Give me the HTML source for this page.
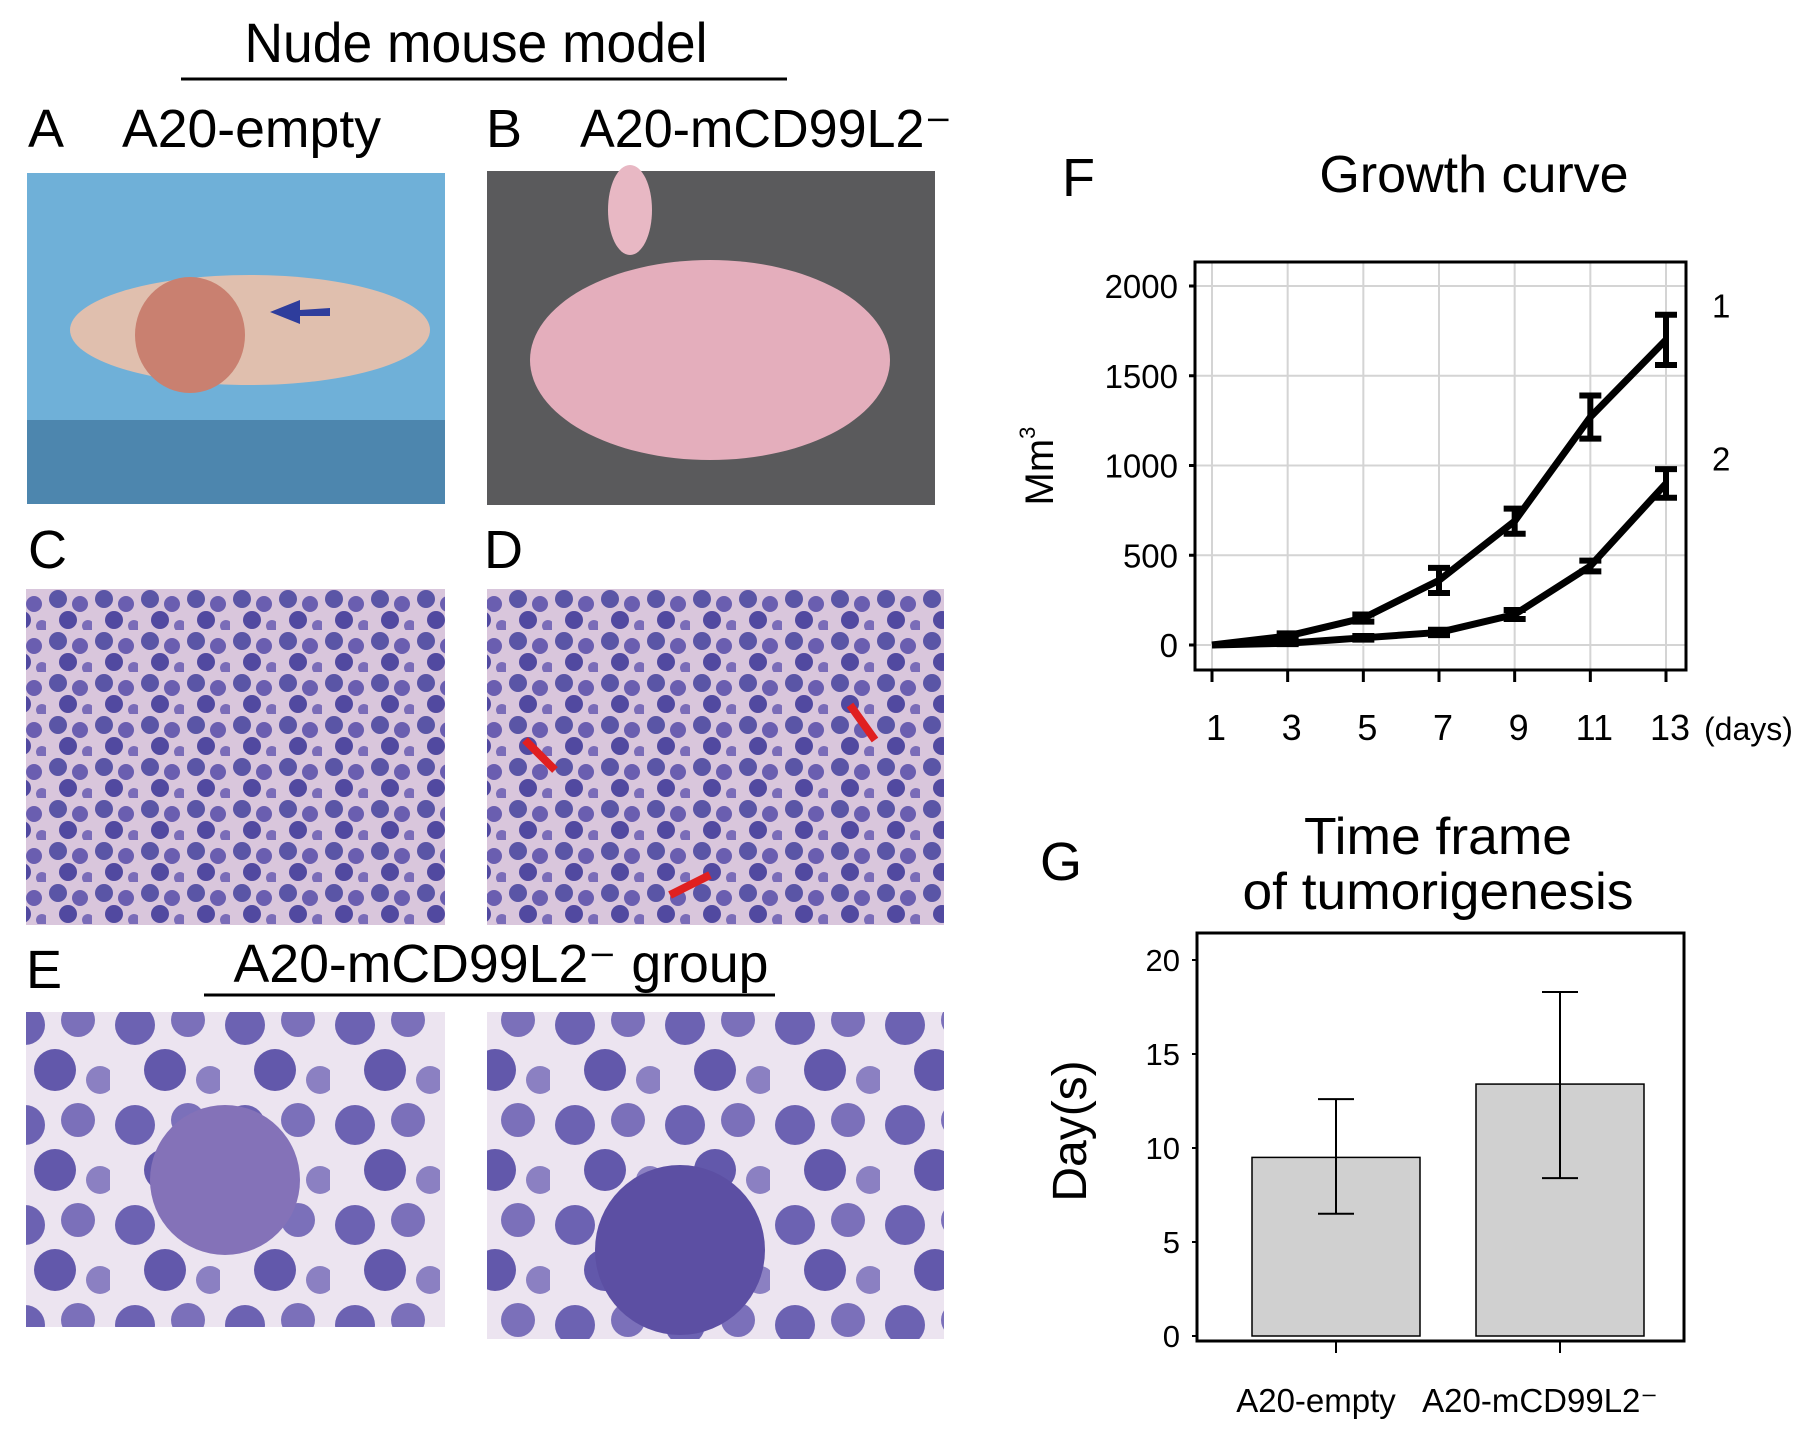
<!DOCTYPE html>
<html><head><meta charset="utf-8"><style>
html,body{margin:0;padding:0;background:#fff;overflow:hidden;}
svg{display:block;font-family:"Liberation Sans",Arial,sans-serif;}
</style></head><body>
<svg id="fig" width="1819" height="1439" viewBox="0 0 1819 1439">
<defs>
<pattern id="cellsS" width="46" height="42" patternUnits="userSpaceOnUse">
<rect width="46" height="42" fill="#d9c6dc"/>
<circle cx="12" cy="11" r="9" fill="#5a55a6"/><circle cx="34" cy="16" r="8" fill="#6a5eb0"/>
<circle cx="22" cy="32" r="9" fill="#5149a0"/><circle cx="42" cy="38" r="6" fill="#7a6cb8"/>
</pattern>
<pattern id="cellsL" width="110" height="100" patternUnits="userSpaceOnUse">
<rect width="110" height="100" fill="#ece4f0"/>
<circle cx="25" cy="25" r="20" fill="#6c62b2"/><circle cx="78" cy="20" r="17" fill="#7b70ba"/>
<circle cx="55" cy="70" r="21" fill="#6258ab"/><circle cx="100" cy="80" r="14" fill="#8b80c2"/>
</pattern>
</defs>

<text x="476" y="62" font-size="56" text-anchor="middle" textLength="463" lengthAdjust="spacingAndGlyphs">Nude mouse model</text>
<line x1="181" y1="79" x2="787" y2="79" stroke="#000" stroke-width="3"/>
<text x="28" y="147" font-size="54">A</text>
<text x="122" y="147" font-size="54" textLength="259" lengthAdjust="spacingAndGlyphs">A20-empty</text>
<text x="486" y="147" font-size="54">B</text>
<text x="580" y="147" font-size="54" textLength="372" lengthAdjust="spacingAndGlyphs">A20-mCD99L2⁻</text>

<g>
<rect x="27" y="173" width="418" height="331" fill="#6fb0d8"/>
<rect x="27" y="420" width="418" height="84" fill="#4d86ae"/>
<ellipse cx="250" cy="330" rx="180" ry="55" fill="#e0bfae"/>
<ellipse cx="190" cy="335" rx="55" ry="58" fill="#c98070"/>
<polygon points="300,310 300,300 270,312 300,324 300,316 330,316 330,308" fill="#2e3d9c"/>
</g>
<g>
<rect x="487" y="171" width="448" height="334" fill="#5a5a5c"/>
<ellipse cx="710" cy="360" rx="180" ry="100" fill="#e4aebc"/>
<ellipse cx="630" cy="210" rx="22" ry="45" fill="#e8b8c4"/>
</g>

<text x="28" y="568" font-size="54">C</text>
<text x="484" y="568" font-size="54">D</text>
<rect x="26" y="589" width="419" height="336" fill="url(#cellsS)"/>
<g>
<rect x="487" y="589" width="457" height="336" fill="url(#cellsS)"/>
<line x1="525" y1="740" x2="555" y2="770" stroke="#e02020" stroke-width="8"/>
<line x1="850" y1="705" x2="875" y2="740" stroke="#e02020" stroke-width="8"/>
<line x1="710" y1="875" x2="670" y2="895" stroke="#e02020" stroke-width="8"/>
</g>

<text x="26" y="988" font-size="54">E</text>
<text x="501" y="982" font-size="54" text-anchor="middle" textLength="535" lengthAdjust="spacingAndGlyphs">A20-mCD99L2⁻ group</text>
<line x1="204" y1="995" x2="775" y2="995" stroke="#000" stroke-width="3"/>
<g>
<rect x="26" y="1012" width="419" height="315" fill="url(#cellsL)"/>
<circle cx="225" cy="1180" r="75" fill="#8472b8"/>
</g>
<g>
<rect x="487" y="1012" width="457" height="327" fill="url(#cellsL)"/>
<circle cx="680" cy="1250" r="85" fill="#5c4fa3"/>
</g>

<!-- Chart F -->
<text x="1062" y="196" font-size="54">F</text>
<text x="1474" y="192" font-size="52" text-anchor="middle">Growth curve</text>
<g id="chartF"></g>
<text transform="translate(1053,466) rotate(-90)" font-size="40" text-anchor="middle">Mm<tspan font-size="22" dy="-18">3</tspan></text>

<!-- Chart G -->
<text x="1040" y="880" font-size="54">G</text>
<text x="1438" y="854" font-size="52" text-anchor="middle" textLength="268" lengthAdjust="spacingAndGlyphs">Time frame</text>
<text x="1438" y="909" font-size="52" text-anchor="middle" textLength="391" lengthAdjust="spacingAndGlyphs">of tumorigenesis</text>
<text transform="translate(1086,1131) rotate(-90)" font-size="48" text-anchor="middle">Day(s)</text>
<g id="chartG"></g>
</svg>
<script>
const fDays=[1,3,5,7,9,11,13];
const fSeries1=[0,50,150,360,690,1270,1700];
const fErr1=[0,15,20,70,70,120,140];
const fSeries2=[0,10,40,70,170,440,900];
const fErr2=[0,5,10,15,25,30,80];
const fYTicks=[0,500,1000,1500,2000];
const fSeriesLabels=["1","2"];

const gCategories=["A20-empty","A20-mCD99L2⁻"];
const gValues=[9.5,13.4];
const gLow=[6.5,8.4];
const gHigh=[12.6,18.3];
const gYTicks=[0,5,10,15,20];

const NS="http://www.w3.org/2000/svg";
function mk(parent,tag,attrs,txt){const e=document.createElementNS(NS,tag);for(const k in attrs)e.setAttribute(k,attrs[k]);if(txt!==undefined)e.textContent=txt;parent.appendChild(e);return e;}

// Chart F
(function(){
const g=document.getElementById('chartF');
const L=1195,R=1686,T=262,B=670;
const x=d=>1212+(d-1)*(1666-1212)/12;
const y=v=>645-v*(645-286)/2000;
fYTicks.forEach(v=>{
 const gl=mk(g,'line',{x1:L,x2:R,y1:y(v),y2:y(v),stroke:'#d4d4d4','stroke-width':2});
 
 
 mk(g,'line',{x1:L-6,x2:L,y1:y(v),y2:y(v),stroke:'#000','stroke-width':3});
 const t=mk(g,'text',{x:1178,y:y(v)+12,'font-size':33,'text-anchor':'end'},String(v));
 
 
});
fDays.forEach(d=>{
 mk(g,'line',{x1:x(d),x2:x(d),y1:T,y2:B,stroke:'#d4d4d4','stroke-width':2});
 mk(g,'line',{x1:x(d),x2:x(d),y1:B,y2:B+12,stroke:'#000','stroke-width':3});
 const t=mk(g,'text',{x:x(d)+4,y:740,'font-size':36,'text-anchor':'middle'},String(d));
 
 
});
const dl=mk(g,'text',{x:1704,y:740,'font-size':32},'(days)');


mk(g,'rect',{x:L,y:T,width:R-L,height:B-T,fill:'none',stroke:'#000','stroke-width':3});
[[fSeries1,fErr1],[fSeries2,fErr2]].forEach((s,i)=>{
 const pts=fDays.map((d,j)=>x(d)+','+y(s[0][j])).join(' ');
 const pl=mk(g,'polyline',{points:pts,fill:'none',stroke:'#000','stroke-width':7,'stroke-linejoin':'round'});
 
 
 fDays.forEach((d,j)=>{
  const e=s[1][j]; if(!e) return;
  const eb=mk(g,'path',{d:`M${x(d)},${y(s[0][j]+e)}V${y(s[0][j]-e)}M${x(d)-11},${y(s[0][j]+e)}h22M${x(d)-11},${y(s[0][j]-e)}h22`,stroke:'#000','stroke-width':6,fill:'none'});
  
  
 });
 const lb=mk(g,'text',{x:1712,y:y(s[0][6]+(i?140:190))+12,'font-size':33},fSeriesLabels[i]);
 
 
});
})();

// Chart G
(function(){
const g=document.getElementById('chartG');
const L=1197,R=1684,T=933,B=1341;
const y=v=>1336-v*(1336-960)/20;
const cx=[1336,1560];
const bw=168;
gYTicks.forEach(v=>{
 mk(g,'line',{x1:L-5,x2:L,y1:y(v),y2:y(v),stroke:'#000','stroke-width':2});
 const t=mk(g,'text',{x:1180,y:y(v)+11,'font-size':31,'text-anchor':'end'},String(v));
 
 
});
gCategories.forEach((c,i)=>{
 const b=mk(g,'rect',{x:cx[i]-bw/2,y:y(gValues[i]),width:bw,height:y(0)-y(gValues[i]),fill:'#d0d0d0',stroke:'#000','stroke-width':1.5});
 
 
 const eb=mk(g,'path',{d:`M${cx[i]},${y(gHigh[i])}V${y(gLow[i])}M${cx[i]-18},${y(gHigh[i])}h36M${cx[i]-18},${y(gLow[i])}h36`,stroke:'#000','stroke-width':2,fill:'none'});
 
 
 mk(g,'line',{x1:cx[i],x2:cx[i],y1:B,y2:B+12,stroke:'#000','stroke-width':2});
 const t=mk(g,'text',{x:cx[i]-20,y:1412,'font-size':33,'text-anchor':'middle'},c);
 
 
});
mk(g,'rect',{x:L,y:T,width:R-L,height:B-T,fill:'none',stroke:'#000','stroke-width':3});
})();
</script>
</body></html>
